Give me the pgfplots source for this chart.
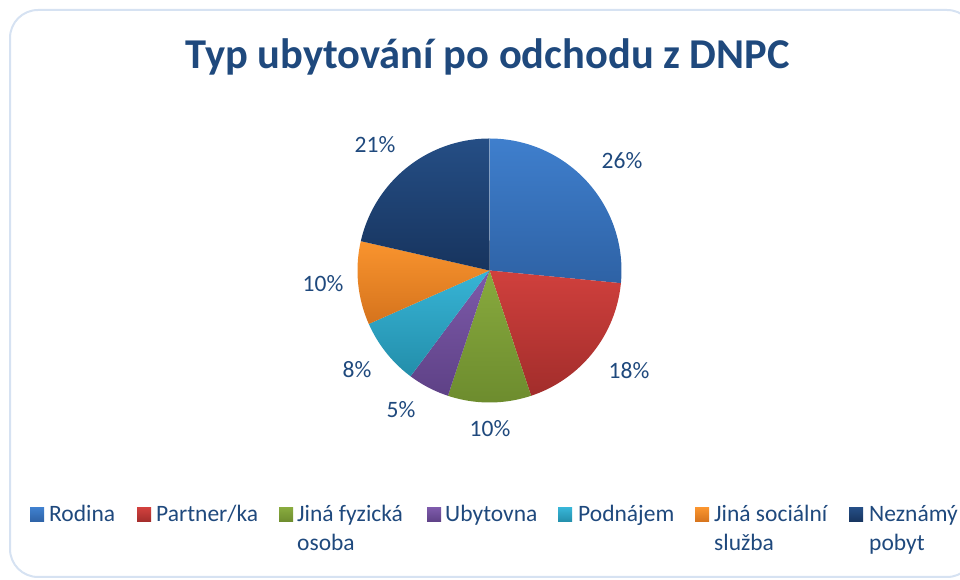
\documentclass[border=0pt]{standalone}
\usepackage{pgfplots}
\pgfplotsset{compat=1.18}
\usepackage{fontspec}
\setmainfont{Carlito}
\definecolor{txt}{HTML}{1F497D}
\definecolor{frame}{HTML}{D6E2F2}
\definecolor{aT}{HTML}{3F7FCD}\definecolor{aB}{HTML}{2E62A5}
\definecolor{bT}{HTML}{D0403D}\definecolor{bB}{HTML}{A22D2B}
\definecolor{cT}{HTML}{88AA3E}\definecolor{cB}{HTML}{6D8C2E}
\definecolor{dT}{HTML}{7D5AAA}\definecolor{dB}{HTML}{5E4186}
\definecolor{eT}{HTML}{37B4D6}\definecolor{eB}{HTML}{238EAA}
\definecolor{fT}{HTML}{F9942E}\definecolor{fB}{HTML}{D5731D}
\definecolor{gT}{HTML}{254E85}\definecolor{gB}{HTML}{17345E}
% data (percent)
\def\vA{26}\def\vB{18}\def\vC{10}\def\vD{5}\def\vE{8}\def\vF{10}\def\vG{21}
\pgfmathsetmacro\tot{\vA+\vB+\vC+\vD+\vE+\vF+\vG}
\pgfmathsetmacro\sA{90}
\pgfmathsetmacro\sB{\sA-\vA/\tot*360}
\pgfmathsetmacro\sC{\sB-\vB/\tot*360}
\pgfmathsetmacro\sD{\sC-\vC/\tot*360}
\pgfmathsetmacro\sE{\sD-\vD/\tot*360}
\pgfmathsetmacro\sF{\sE-\vE/\tot*360}
\pgfmathsetmacro\sG{\sF-\vF/\tot*360}
\pgfmathsetmacro\sH{\sG-\vG/\tot*360}
\def\cx{489.5}\def\cy{309.5}\def\rr{132}
\newcommand{\pieslice}[4]{%
  \addplot[draw=none, top color=#3, bottom color=#4, domain=#2:#1, samples=80, variable=\t]
    ({\cx+\rr*cos(\t)},{\cy+\rr*sin(\t)}) -- (axis cs:\cx,\cy) -- cycle;}
\newcommand{\legkey}[3]{\fill[top color=#2, bottom color=#3] (axis cs:#1,72) rectangle (axis cs:#1+14,58);}
\begin{document}
\begin{tikzpicture}
\begin{axis}[x=1pt, y=1pt, xmin=0, xmax=960, ymin=0, ymax=580,
  hide axis, clip=false, scale only axis]
% frame
\draw[color=frame, line width=2pt, rounded corners=28pt] (axis cs:10,570) rectangle (axis cs:975,3);
% wedges
\pieslice{\sA}{\sB}{aT}{aB}
\pieslice{\sB}{\sC}{bT}{bB}
\pieslice{\sC}{\sD}{cT}{cB}
\pieslice{\sD}{\sE}{dT}{dB}
\pieslice{\sE}{\sF}{eT}{eB}
\pieslice{\sF}{\sG}{fT}{fB}
\pieslice{\sG}{\sH}{gT}{gB}
% title
\node[anchor=base, text=txt, inner sep=0, font=\fontsize{42.5}{50}\selectfont\bfseries] at (axis cs:487.5,511) {Typ ubytování po odchodu z DNPC};
% data labels
\tikzset{lab/.style={anchor=base, text=txt, inner sep=0, font=\fontsize{23.5}{28}\selectfont}}
\node[lab] at (axis cs:622,411) {\vA\%};
\node[lab] at (axis cs:629,201) {\vB\%};
\node[lab] at (axis cs:490,143) {\vC\%};
\node[lab] at (axis cs:401,162) {\vD\%};
\node[lab] at (axis cs:357,202) {\vE\%};
\node[lab] at (axis cs:323,288) {\vF\%};
\node[lab] at (axis cs:375,427) {\vG\%};
% legend
\tikzset{leg/.style={anchor=base west, text=txt, inner sep=0, font=\fontsize{23.5}{28}\selectfont}}
\legkey{30}{aT}{aB}\node[leg] at (axis cs:49,58) {Rodina};
\legkey{137}{bT}{bB}\node[leg] at (axis cs:156,58) {Partner/ka};
\legkey{279}{cT}{cB}\node[leg] at (axis cs:297,58) {Jiná fyzická};
\node[leg] at (axis cs:297,29) {osoba};
\legkey{427}{dT}{dB}\node[leg] at (axis cs:445,58) {Ubytovna};
\legkey{558}{eT}{eB}\node[leg] at (axis cs:578,58) {Podnájem};
\legkey{695}{fT}{fB}\node[leg] at (axis cs:714,58) {Jiná sociální};
\node[leg] at (axis cs:714,29) {služba};
\legkey{849}{gT}{gB}\node[leg] at (axis cs:869,58) {Neznámý};
\node[leg] at (axis cs:869,29) {pobyt};
\end{axis}
\pgfresetboundingbox
\useasboundingbox (0,0) rectangle (960pt,580pt);
\end{tikzpicture}
\end{document}
